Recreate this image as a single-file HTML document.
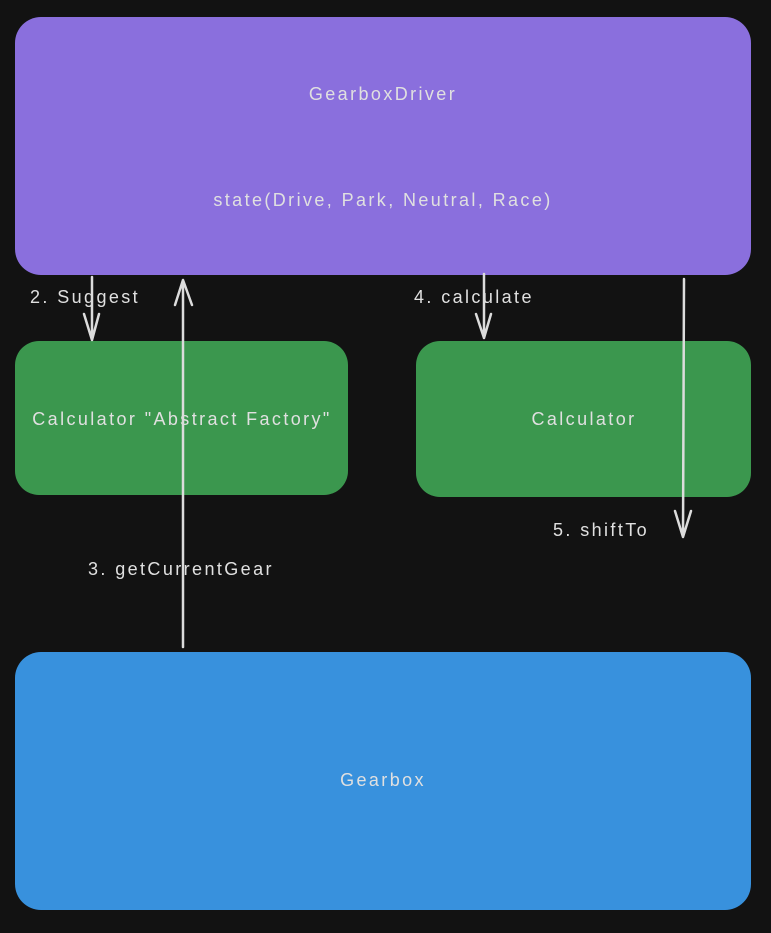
<!DOCTYPE html>
<html><head><meta charset="utf-8"><style>
html,body{margin:0;padding:0;background:#121212;}
svg{display:block}
text{font-family:"Liberation Sans",sans-serif;fill:#e0e0e0;font-size:18px;letter-spacing:2.4px}
</style></head><body>
<svg width="771" height="933" viewBox="0 0 771 933">
<rect width="771" height="933" fill="#121212"/>
<rect x="15" y="17" width="736" height="258" rx="26" fill="#8a6fdd"/>
<rect x="15" y="341" width="333" height="154" rx="24" fill="#3b974e"/>
<rect x="416" y="341" width="335" height="156" rx="24" fill="#3b974e"/>
<rect x="15" y="652" width="736" height="258" rx="26" fill="#3891dd"/>
<text x="383" y="100" text-anchor="middle">GearboxDriver</text>
<text x="383" y="206" text-anchor="middle">state(Drive, Park, Neutral, Race)</text>
<text x="182" y="425" text-anchor="middle">Calculator "Abstract Factory"</text>
<text x="584" y="425" text-anchor="middle">Calculator</text>
<text x="383" y="786" text-anchor="middle">Gearbox</text>
<text x="30" y="303">2. Suggest</text>
<text x="414" y="303">4. calculate</text>
<text x="553" y="536">5. shiftTo</text>
<text x="88" y="575">3. getCurrentGear</text>
<g stroke="#dcdcdc" stroke-width="2.5" fill="none" stroke-linecap="round" stroke-linejoin="round">
<path d="M92 277 L92 340 M84 314 L92 340 L99 314"/>
<path d="M183 647 L183 280 M175 305 L183 280 L192 305"/>
<path d="M484 274 L484 338 M476 314 L484 338 L491 314"/>
<path d="M684 279 L683 537 M675 511 L683 537 L691 511"/>
</g>
</svg>
</body></html>
